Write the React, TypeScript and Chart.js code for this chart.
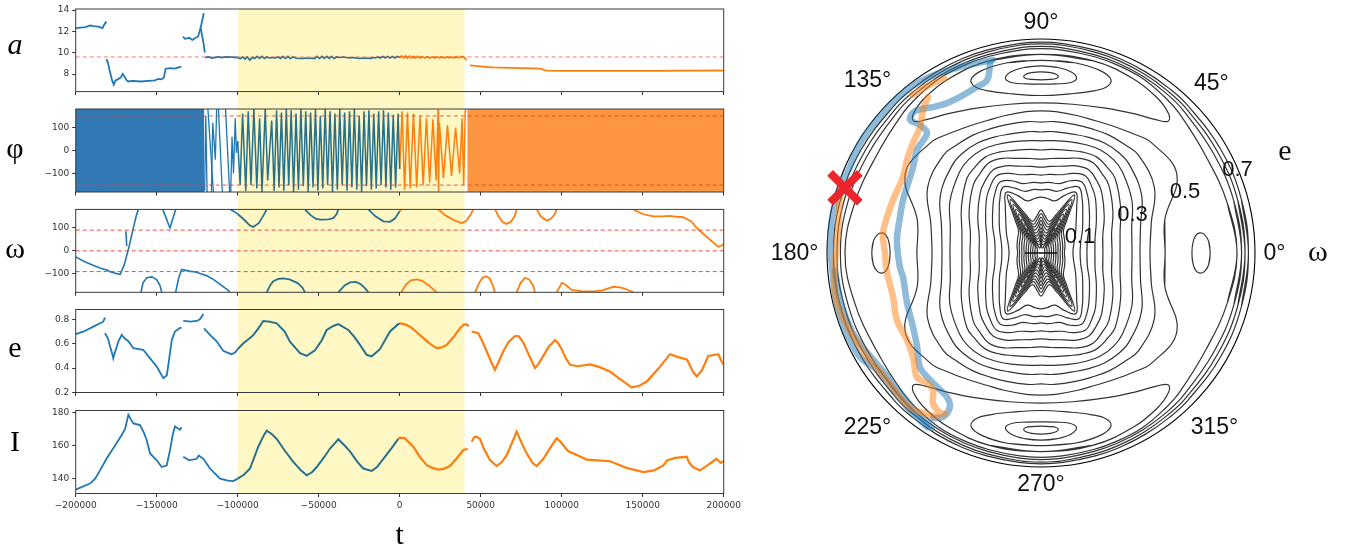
import React, { useEffect, useRef } from 'react';
import { Chart, registerables } from 'chart.js';

Chart.register(...registerables);

type Pt = [number, number];

// ---------------- shared time axis ----------------
const T_TICKS = [-200000, -150000, -100000, -50000, 0, 50000, 100000, 150000, 200000];
const BAND_START = -100000;
const BAND_END = 40000;

// ---------------- panel a ----------------
const A_TICKS = [8, 10, 12, 14];
const A_REF = 9.6;
const aBlue: Pt[][] = [
  [[-200000, 12.3], [-197000, 12.35], [-194000, 12.4], [-191000, 12.55], [-189000, 12.5], [-186000, 12.45], [-183500, 12.3], [-182500, 12.6], [-181500, 12.85], [-181000, 12.75]],
  [[-181000, 9.4], [-180000, 9.0], [-179000, 8.3], [-177500, 7.4], [-176500, 7.0], [-175500, 7.4], [-174000, 7.5], [-172000, 7.7], [-171000, 8.0], [-170000, 7.8], [-168500, 7.4], [-167500, 7.3], [-165000, 7.35], [-160000, 7.3], [-155000, 7.35], [-151000, 7.4], [-149000, 7.55], [-147000, 7.5], [-145500, 7.7], [-144500, 8.5], [-142000, 8.55], [-139000, 8.5], [-137000, 8.6], [-134800, 8.7]],
  [[-133800, 11.5], [-132500, 11.3], [-130000, 11.4], [-128000, 11.2], [-126000, 11.4], [-124500, 11.5], [-123500, 12.0], [-122500, 12.6], [-121500, 13.3], [-121000, 13.7]],
  [[-122800, 12.3], [-122000, 11.6], [-121000, 10.8], [-120300, 10.0]],
  [[-120000, 9.55], [-118000, 9.6], [-116000, 9.5], [-114000, 9.55], [-112000, 9.6], [-110000, 9.55], [-107000, 9.6], [-104000, 9.58], [-100000, 9.55]],
];
const aTeal: Pt[] = [
  [-100000, 9.55], [-98500, 9.45], [-97000, 9.6], [-95500, 9.4], [-94000, 9.6], [-92500, 9.3], [-91000, 9.55], [-89500, 9.45], [-88000, 9.65], [-86500, 9.45], [-85000, 9.65], [-83500, 9.45], [-82000, 9.6], [-80500, 9.5], [-79000, 9.55], [-77000, 9.5], [-75000, 9.6], [-73500, 9.45], [-72000, 9.65], [-70500, 9.45], [-69000, 9.65], [-67500, 9.45], [-66000, 9.6], [-64000, 9.5], [-62000, 9.45], [-60000, 9.45], [-58000, 9.5], [-56000, 9.45], [-54000, 9.5], [-52500, 9.45], [-51000, 9.65], [-49500, 9.45], [-48000, 9.65], [-46500, 9.45], [-45000, 9.65], [-43500, 9.45], [-42000, 9.65], [-40500, 9.45], [-39000, 9.6], [-37000, 9.55], [-35000, 9.6], [-33000, 9.55], [-31000, 9.5], [-29000, 9.55], [-27000, 9.5], [-25000, 9.45], [-23000, 9.5], [-21000, 9.45], [-19500, 9.5], [-18000, 9.45], [-16500, 9.55], [-15000, 9.5], [-13500, 9.6], [-12000, 9.5], [-10500, 9.65], [-9000, 9.5], [-7500, 9.65], [-6000, 9.5], [-4500, 9.65], [-3000, 9.5], [-1500, 9.65], [0, 9.55],
];
const aOrange: Pt[][] = [
  [[0, 9.55], [1200, 9.7], [2400, 9.5], [3600, 9.7], [4800, 9.5], [6000, 9.68], [7200, 9.5], [8400, 9.65], [9600, 9.5], [11000, 9.65], [12500, 9.5], [14000, 9.62], [15500, 9.5], [17000, 9.62], [18500, 9.5], [20000, 9.6], [21500, 9.52], [23000, 9.6], [24500, 9.52], [26000, 9.6], [27500, 9.5], [29000, 9.62], [30500, 9.52], [32000, 9.6], [33500, 9.5], [35000, 9.62], [36500, 9.52], [38000, 9.65], [39500, 9.6], [40500, 9.45], [41200, 9.3]],
  [[43400, 8.82], [47000, 8.76], [50000, 8.72], [54000, 8.66], [57800, 8.62], [62000, 8.6], [68000, 8.58], [75000, 8.55], [82000, 8.52], [86000, 8.5], [88000, 8.45], [89500, 8.34], [92000, 8.32], [100000, 8.3], [120000, 8.29], [140000, 8.29], [160000, 8.3], [175000, 8.32], [185000, 8.31], [195000, 8.33], [200000, 8.32]],
];

// ---------------- panel phi ----------------
const PHI_TICKS = [-100, 0, 100];
const PHI_REF = [150, -150];
const phiBlueBlock: Pt[] = [[-200000, 180], [-120600, 180]];
const phiOrangeBlock: Pt[] = [[41700, 180], [200000, 180]];
const phiBlue: Pt[][] = [
  [[-120400, -175], [-119700, 150], [-118900, -180]],
  [[-118400, 180], [-115000, -180]],
  [[-116200, -180], [-115400, 120], [-113800, -40], [-113000, 180]],
  [[-111900, 180], [-109500, -180]],
  [[-107500, 180], [-105000, -180]],
  [[-104300, -180], [-103500, 60], [-102600, -100], [-101500, 140], [-100800, -10], [-100000, 40]],
];
const phiTeal: Pt[] = [
  [-100000, 40], [-98500, -150], [-97000, 160], [-95000, -175], [-93500, 170], [-91800, -150], [-90000, 180], [-88200, -165], [-86500, 140], [-85000, -180], [-83000, 180], [-81500, -130], [-79000, 130], [-77500, -175], [-76000, 175], [-74500, -160], [-73000, 165], [-71500, -175], [-70000, 180], [-68500, -150], [-67000, 175], [-65500, -180], [-64000, 160], [-62500, -170], [-61000, 180], [-59500, -155], [-58000, 170], [-56500, -180], [-55000, 165], [-53500, -160], [-52000, 180], [-50500, -175], [-49000, 150], [-47500, -165], [-46000, 180], [-44500, -150], [-43000, 170], [-41500, -180], [-40000, 160], [-38500, -170], [-37000, 180], [-35500, -150], [-34000, 165], [-32500, -175], [-31000, 170], [-29500, -160], [-28000, 180], [-26500, -170], [-25000, 150], [-23500, -180], [-22000, 170], [-20500, -155], [-19000, 175], [-17500, -170], [-16000, 160], [-14500, -165], [-13000, 170], [-11500, -150], [-10000, 175], [-8500, -160], [-7000, 165], [-5500, -170], [-4000, 155], [-2500, -160], [-1000, 160], [0, -80],
];
const phiOrange: Pt[] = [
  [0, -80], [1500, 170], [3000, -170], [4800, 165], [6500, -165], [8500, 160], [10500, -160], [12500, 150], [14500, -150], [16500, 140], [18500, -140], [20500, 135], [22500, -130], [23700, 178], [24000, -180], [24500, 120], [27000, -120], [29500, 110], [32000, -110], [34500, 100], [37000, -100], [38500, 140], [39500, -150], [40500, 180],
];

// ---------------- panel omega ----------------
const OM_TICKS = [-100, 0, 100];
const OM_REF = [90, 0, -90];
const omBlue: Pt[][] = [
  [[-200000, -26], [-195000, -45], [-190000, -60], [-185000, -74], [-180000, -85], [-178800, -91], [-176000, -96], [-172600, -103], [-170000, -60], [-167000, 20], [-164400, 100], [-162700, 150], [-161400, 180]],
  [[-169000, 85], [-168500, 20]],
  [[-146300, 180], [-144000, 140], [-142500, 110], [-141800, 100], [-140500, 130], [-138300, 180]],
  [[-159700, -180], [-158500, -140], [-156200, -117], [-153000, -113], [-150000, -125], [-148000, -150], [-146900, -180]],
  [[-138300, -180], [-136500, -120], [-134600, -81], [-130000, -88], [-126000, -92], [-123300, -98], [-119000, -108], [-115000, -124], [-110000, -150], [-106000, -170], [-104750, -180]],
  [[-104750, 180], [-102000, 170], [-100000, 160]],
];
const omTeal: Pt[][] = [
  [[-100000, 160], [-96000, 135], [-92500, 110], [-90400, 104], [-87000, 120], [-84000, 155], [-82100, 180]],
  [[-82100, -180], [-80000, -150], [-78000, -132], [-75000, -122], [-71900, -120], [-68000, -124], [-63000, -140], [-60000, -160], [-58500, -180]],
  [[-58500, 180], [-55000, 155], [-52000, 140], [-49200, 136], [-44000, 137], [-41000, 142], [-38900, 160], [-37900, 180]],
  [[-37900, -180], [-34000, -150], [-30700, -137], [-27000, -135], [-24000, -145], [-21000, -165], [-19400, -180]],
  [[-19400, 180], [-15000, 150], [-10100, 128], [-6000, 126], [-3000, 140], [0, 172]],
];
const omOrange: Pt[][] = [
  [[0, 172], [1000, 180]],
  [[1000, -180], [4000, -145], [7000, -128], [10500, -124], [14000, -130], [18000, -150], [22800, -180]],
  [[23800, 180], [28000, 155], [33000, 135], [36500, 125], [38300, 121], [41000, 130], [44000, 160], [45400, 180]],
  [[46500, -180], [49000, -140], [51000, -118], [53300, -110], [55500, -120], [57500, -150], [58800, -180]],
  [[58800, 180], [61000, 150], [63500, 125], [66000, 117], [68500, 125], [71000, 150], [72200, 180]],
  [[72200, -180], [74500, -140], [77300, -117], [80000, -125], [82300, -150], [83500, -180]],
  [[84600, 180], [87000, 150], [90700, 131], [93500, 140], [95800, 160], [96900, 180]],
  [[96900, -180], [98500, -160], [100000, -139], [102000, -145], [106200, -170], [112000, -175], [120000, -176], [125000, -172], [131900, -156], [137000, -160], [141000, -170], [144200, -180]],
  [[144200, 180], [150000, 160], [156500, 150], [162000, 150], [166800, 152], [171000, 148], [175000, 146], [180000, 128], [183300, 100], [188000, 70], [193000, 40], [196700, 17], [198500, 22], [200000, 30]],
];

// ---------------- panel e ----------------
const E_TICKS = [0.2, 0.4, 0.6, 0.8];
const eBlue: Pt[][] = [
  [[-200000, 0.678], [-195000, 0.7], [-189100, 0.74], [-185000, 0.767], [-183000, 0.78], [-181900, 0.813]],
  [[-181900, 0.686], [-180000, 0.64], [-178800, 0.576], [-177500, 0.52], [-176800, 0.48], [-175800, 0.53], [-174500, 0.58], [-173700, 0.617], [-171600, 0.672], [-169500, 0.64], [-167500, 0.62], [-164400, 0.563], [-161000, 0.555], [-158300, 0.55], [-154100, 0.48], [-150000, 0.413], [-145900, 0.318], [-143800, 0.34], [-142800, 0.427], [-140700, 0.631], [-138700, 0.7], [-135600, 0.73], [-134600, 0.73]],
  [[-133600, 0.786], [-129000, 0.78], [-125300, 0.786], [-123300, 0.8], [-121200, 0.843]],
  [[-120800, 0.726], [-117100, 0.672], [-113000, 0.62], [-110500, 0.57], [-108900, 0.541], [-106000, 0.525], [-103700, 0.514], [-101500, 0.53], [-100000, 0.555]],
];
const eTeal: Pt[] = [
  [-100000, 0.555], [-96500, 0.604], [-93000, 0.64], [-90400, 0.67], [-87000, 0.73], [-84200, 0.786], [-80000, 0.78], [-75900, 0.767], [-71000, 0.7], [-67700, 0.617], [-64000, 0.56], [-61500, 0.522], [-57400, 0.5], [-52300, 0.545], [-48000, 0.63], [-45100, 0.712], [-41000, 0.745], [-37900, 0.76], [-31700, 0.712], [-28000, 0.655], [-24500, 0.59], [-20400, 0.509], [-17300, 0.496], [-12200, 0.555], [-9000, 0.63], [-6000, 0.7], [-900, 0.76], [0, 0.767],
];
const eOrange: Pt[][] = [
  [[0, 0.767], [3000, 0.76], [6400, 0.74], [10000, 0.7], [14600, 0.645], [18500, 0.6], [22800, 0.563], [26000, 0.57], [29000, 0.59], [33000, 0.65], [37200, 0.727], [39500, 0.755], [41400, 0.76], [42500, 0.74]],
  [[44400, 0.7], [48500, 0.686], [51000, 0.62], [53700, 0.536], [56500, 0.45], [58800, 0.386], [61000, 0.45], [63900, 0.536], [67000, 0.61], [71200, 0.664], [73500, 0.66], [76300, 0.61], [80000, 0.5], [83500, 0.4], [85500, 0.43], [88700, 0.5], [92000, 0.575], [95900, 0.63], [98000, 0.6], [100000, 0.555], [102500, 0.48], [105100, 0.427], [110000, 0.415], [117500, 0.43], [123000, 0.41], [129800, 0.372], [136000, 0.31], [143200, 0.242], [148000, 0.255], [152500, 0.29], [160000, 0.4], [166800, 0.514], [172000, 0.49], [177200, 0.47], [178500, 0.44], [181000, 0.37], [183300, 0.331], [186500, 0.38], [190500, 0.5], [196700, 0.514], [198500, 0.46], [200000, 0.427]],
];

// ---------------- panel I ----------------
const I_TICKS = [140, 160, 180];
const iBlue: Pt[][] = [
  [[-200000, 133.3], [-191200, 137], [-188000, 140], [-185000, 145], [-180900, 152.2], [-176800, 158.3], [-174700, 161.5], [-171600, 166.4], [-169500, 170], [-167500, 178.6], [-166000, 176], [-164400, 173.4], [-160300, 172.4], [-158000, 168], [-156200, 163.4], [-154100, 155.2], [-150000, 151.1], [-146900, 147], [-143800, 148], [-141800, 157.2], [-140000, 167], [-138700, 171.5], [-135600, 169.5], [-134600, 171]],
  [[-133600, 153.2], [-130000, 151.1], [-125300, 152], [-124000, 154], [-121200, 152], [-117100, 146.1], [-114000, 143], [-110900, 140], [-106000, 138.8], [-102700, 138.5], [-100000, 140]],
];
const iTeal: Pt[] = [
  [-100000, 140], [-96000, 142.5], [-92400, 146.1], [-87300, 159.3], [-84000, 166], [-82100, 169], [-79000, 167], [-75900, 164], [-71000, 157], [-65700, 150.1], [-61000, 145], [-57400, 142], [-54000, 144], [-51200, 147], [-47000, 152.5], [-43000, 158.2], [-40000, 161.5], [-37900, 163.8], [-34000, 160], [-30700, 156.5], [-26000, 150], [-22500, 146.1], [-17300, 144.6], [-14000, 147], [-10100, 152], [-5000, 158.5], [-900, 164],
];
const iOrange: Pt[][] = [
  [[-900, 164], [0, 164.8], [3000, 164.5], [8400, 159.3], [12500, 153], [16700, 148.1], [20000, 146.5], [23800, 145.5], [27500, 146], [31000, 147.6], [35000, 152], [39300, 157.3], [42000, 158]],
  [[44400, 162.3], [46000, 165], [47500, 165.3], [49500, 164], [52000, 158], [55700, 151.2], [59900, 147.6], [63000, 150], [66000, 154], [69500, 162], [72200, 168.4], [75500, 161], [78400, 155.2], [82000, 149.5], [84600, 147.6], [88700, 152], [92500, 158], [96900, 164.4], [99500, 162], [102000, 159], [104100, 156.5], [110000, 154], [115400, 151.5], [122000, 151], [129800, 150.5], [140000, 146.5], [150400, 144], [157000, 145], [162700, 148], [165000, 151], [170000, 152.5], [177200, 153.2], [178500, 150], [181000, 147], [185300, 145], [190000, 148], [195600, 152], [198000, 149.5], [200000, 150.7]],
];

// ---------------- polar (omega in degrees, e) ----------------
const E_MAX = 0.75;
const ANGLE_TICKS = [0, 45, 90, 135, 180, 225, 270, 315];
const R_TICKS = [0.1, 0.3, 0.5, 0.7];
const CONTOUR_ANGLES = [0, 15, 30, 45, 52, 60, 68, 75, 84, 90];
// radii (e) of level curves around e = 0, at the angles above (first quadrant; mirror symmetric)
const centerContours: number[][] = [
  [0.013, 0.014, 0.015, 0.018, 0.023, 0.061, 0.023, 0.018, 0.021, 0.04],
  [0.021, 0.022, 0.024, 0.028, 0.037, 0.081, 0.037, 0.029, 0.033, 0.053],
  [0.028, 0.03, 0.033, 0.038, 0.051, 0.1, 0.051, 0.04, 0.046, 0.065],
  [0.036, 0.038, 0.041, 0.049, 0.065, 0.119, 0.065, 0.05, 0.058, 0.077],
  [0.044, 0.046, 0.05, 0.059, 0.079, 0.138, 0.079, 0.061, 0.07, 0.089],
  [0.052, 0.054, 0.059, 0.069, 0.093, 0.158, 0.093, 0.072, 0.082, 0.102],
  [0.059, 0.062, 0.068, 0.08, 0.107, 0.177, 0.107, 0.083, 0.095, 0.114],
  [0.067, 0.07, 0.077, 0.09, 0.121, 0.196, 0.121, 0.094, 0.107, 0.126],
  [0.075, 0.079, 0.086, 0.101, 0.134, 0.216, 0.134, 0.104, 0.12, 0.138],
  [0.082, 0.087, 0.095, 0.111, 0.148, 0.235, 0.148, 0.115, 0.132, 0.151],
  [0.112, 0.119, 0.14, 0.175, 0.203, 0.245, 0.217, 0.189, 0.193, 0.196],
  [0.137, 0.144, 0.168, 0.207, 0.235, 0.266, 0.245, 0.224, 0.224, 0.221],
  [0.161, 0.168, 0.196, 0.238, 0.263, 0.287, 0.273, 0.252, 0.249, 0.245],
  [0.189, 0.196, 0.224, 0.27, 0.291, 0.312, 0.301, 0.284, 0.277, 0.273],
  [0.217, 0.224, 0.256, 0.301, 0.319, 0.336, 0.329, 0.315, 0.305, 0.301],
  [0.249, 0.256, 0.291, 0.336, 0.35, 0.365, 0.358, 0.343, 0.333, 0.329],
  [0.277, 0.287, 0.322, 0.368, 0.379, 0.389, 0.382, 0.372, 0.365, 0.361],
  [0.319, 0.329, 0.368, 0.403, 0.414, 0.417, 0.41, 0.403, 0.396, 0.393],
  [0.347, 0.361, 0.407, 0.438, 0.445, 0.445, 0.438, 0.431, 0.428, 0.424],
  [0.382, 0.4, 0.459, 0.484, 0.48, 0.477, 0.47, 0.466, 0.463, 0.459],
  [0.435, 0.449, 0.55, 0.547, 0.529, 0.512, 0.501, 0.498, 0.498, 0.498],
];
const outerContours: number[][] = [
  [0.687, 0.676, 0.67, 0.688, 0.698, 0.708, 0.711, 0.713, 0.715, 0.716],
  [0.703, 0.7, 0.698, 0.706, 0.711, 0.715, 0.718, 0.72, 0.723, 0.724],
  [0.715, 0.714, 0.713, 0.718, 0.721, 0.724, 0.727, 0.729, 0.732, 0.733],
  [0.727, 0.727, 0.727, 0.729, 0.731, 0.733, 0.735, 0.736, 0.738, 0.739],
];
// libration islands around omega = 90 (right half, outer -> inner)
const islandContours: Pt[][] = [
  [[90, 0.635], [87, 0.633], [85, 0.628], [84.4, 0.621], [85, 0.614], [87, 0.609], [90, 0.607]],
  [[90, 0.656], [85, 0.653], [80.5, 0.643], [78.5, 0.624], [80.5, 0.605], [85, 0.595], [90, 0.592]],
  [[90, 0.675], [80, 0.677], [72, 0.672], [68, 0.655], [68.5, 0.625], [73, 0.592], [80, 0.566], [90, 0.552]],
  [[90, 0.696], [75, 0.698], [62, 0.691], [53, 0.679], [47.5, 0.662], [46, 0.642], [49, 0.618], [56, 0.588], [66, 0.556], [78, 0.533], [90, 0.526]],
];
// island around omega = 0 (upper half, outer -> inner)
const sideIsland: Pt[] = [[0, 0.593], [4, 0.589], [6.5, 0.576], [7.2, 0.561], [6.5, 0.546], [4, 0.534], [0, 0.529]];

const blueTracks: Pt[][] = [
  [[104.0, 0.697], [113.5, 0.711], [123.1, 0.732], [130.8, 0.74], [139.8, 0.739], [148.7, 0.742], [155.8, 0.734], [161.8, 0.741], [169.1, 0.742], [176.5, 0.741], [183.8, 0.734], [193.5, 0.738], [201, 0.737], [209.9, 0.732], [215.5, 0.706], [222.8, 0.707], [230.2, 0.717], [236.8, 0.729]],
  [[185, 0.725], [195, 0.722], [204, 0.715], [211, 0.7], [218, 0.69], [225, 0.695], [232, 0.71], [238, 0.722]],
  [[105.0, 0.689], [107.3, 0.635], [111.1, 0.624], [117.4, 0.616], [122.1, 0.62], [126.5, 0.636], [131.5, 0.665], [134.5, 0.655], [133.4, 0.617], [133.5, 0.58], [140.3, 0.565], [146.1, 0.54], [153.8, 0.524], [159.0, 0.518], [165.7, 0.51], [174.8, 0.507], [185.7, 0.497], [189.9, 0.491], [200.5, 0.501], [210.0, 0.518], [217.2, 0.545], [223.3, 0.583], [228.8, 0.591], [232.2, 0.594], [236.9, 0.603], [239.4, 0.627], [239.1, 0.67], [236.8, 0.691]],
];
const orangeTracks: Pt[][] = [
  [[119, 0.7], [124, 0.708], [129.2, 0.715]],
  [[125.9, 0.675], [129.5, 0.65], [133.8, 0.612], [139.3, 0.592], [145.2, 0.572], [151.2, 0.552], [160.3, 0.551], [166.8, 0.554], [172.8, 0.558], [180, 0.547], [187.4, 0.544], [196.6, 0.541], [205.0, 0.557], [213.0, 0.56], [219.1, 0.578], [225.0, 0.615], [228.8, 0.606], [231.8, 0.611], [234.2, 0.648], [237.7, 0.663], [238.9, 0.658]],
  [[162.6, 0.738], [173.5, 0.716], [183.9, 0.724], [193.8, 0.736], [207.4, 0.715], [219.5, 0.7], [229.6, 0.709], [237.6, 0.681]],
];
const startMarker: Pt = [161.6, 0.724];

// ---------------- styling ----------------
const BLUE = '#1f77b4';
const TEAL = '#27718f';
const ORANGE = '#ff7f0e';
const BLUE_BLOCK = '#3079b5';
const ORANGE_BLOCK = '#fd9640';
const BAND_COLOR = '#fff8c4';
const TICK_FONT = { family: 'DejaVu Sans', size: 9 };
const SERIF = '"Liberation Serif", "DejaVu Serif", serif';

const CANVAS_TOPS = [0, 100, 201, 301, 402];
const CANVAS_BOTTOMS = [100, 201, 301, 402, 551];
const PANEL_TOPS = [9, 109, 209.3, 309.5, 410.5];
const PANEL_H = 83;
const LEFT_W = 760;
const AXIS_W = 75.7;
const PLOT_RIGHT = 723.7;

interface Series { data: Pt[]; color: string; width?: number; fill?: boolean }
interface PanelSpec {
  label: string; italic?: boolean; labelDy: number;
  min: number; max: number; ticks: number[];
  series: Series[]; hlines: { v: number; color: string }[];
}

const segs = (list: Pt[][], color: string, width?: number): Series[] => list.map((d) => ({ data: d, color, width }));

const PANELS: PanelSpec[] = [
  {
    label: 'a', italic: true, labelDy: -4, min: 6.35, max: 14.1, ticks: A_TICKS,
    series: [...segs(aBlue, BLUE), { data: aTeal, color: TEAL, width: 1.6 }, ...segs(aOrange, ORANGE)],
    hlines: [{ v: A_REF, color: 'rgba(232,70,50,0.7)' }],
  },
  {
    label: 'φ', labelDy: 0, min: -180, max: 180, ticks: PHI_TICKS,
    series: [
      { data: phiBlueBlock, color: BLUE_BLOCK, fill: true },
      { data: phiOrangeBlock, color: ORANGE_BLOCK, fill: true },
      ...segs(phiBlue, BLUE, 1.3),
      { data: phiTeal, color: TEAL, width: 1.5 },
      { data: phiOrange, color: ORANGE, width: 1.5 },
    ],
    hlines: PHI_REF.map((v) => ({ v, color: 'rgba(232,60,40,0.85)' })),
  },
  {
    label: 'ω', labelDy: -1, min: -180, max: 180, ticks: OM_TICKS,
    series: [...segs(omBlue, BLUE, 1.6), ...segs(omTeal, TEAL, 1.8), ...segs(omOrange, ORANGE, 1.8)],
    hlines: OM_REF.map((v) => ({ v, color: 'rgba(232,60,40,0.9)' })),
  },
  {
    label: 'e', labelDy: -2, min: 0.2, max: 0.88, ticks: E_TICKS,
    series: [...segs(eBlue, BLUE, 1.8), { data: eTeal, color: TEAL, width: 2 }, ...segs(eOrange, ORANGE, 2.2)],
    hlines: [],
  },
  {
    label: 'I', labelDy: -9, min: 131, max: 181.2, ticks: I_TICKS,
    series: [...segs(iBlue, BLUE, 1.8), { data: iTeal, color: TEAL, width: 2 }, ...segs(iOrange, ORANGE, 2.2)],
    hlines: [],
  },
];

const fmt = (v: number | string) => String(v).replace('-', '\u2212');

function panelConfig(p: PanelSpec, i: number): any {
  const first = i === 0;
  const last = i === PANELS.length - 1;
  const canvasH = CANVAS_BOTTOMS[i] - CANVAS_TOPS[i];
  const padTop = PANEL_TOPS[i] - CANVAS_TOPS[i];
  const xh = canvasH - padTop - PANEL_H;
  const deco = {
    id: 'panelDeco' + i,
    beforeDraw(chart: any) {
      const { ctx, chartArea, scales } = chart;
      const x0 = scales.x.getPixelForValue(BAND_START);
      const x1 = scales.x.getPixelForValue(BAND_END);
      const top = first ? chartArea.top : 0;
      const bottom = last ? chartArea.bottom : chart.height;
      ctx.save();
      ctx.fillStyle = BAND_COLOR;
      ctx.fillRect(x0, top, x1 - x0, bottom - top);
      ctx.restore();
    },
    afterDatasetsDraw(chart: any) {
      const { ctx, chartArea, scales } = chart;
      ctx.save();
      ctx.lineWidth = 1;
      ctx.setLineDash([4, 3]);
      p.hlines.forEach((h) => {
        const y = scales.y.getPixelForValue(h.v);
        ctx.strokeStyle = h.color;
        ctx.beginPath();
        ctx.moveTo(chartArea.left, y);
        ctx.lineTo(chartArea.right, y);
        ctx.stroke();
      });
      ctx.setLineDash([]);
      ctx.strokeStyle = '#3a3a3a';
      ctx.lineWidth = 1;
      ctx.strokeRect(chartArea.left, chartArea.top, chartArea.right - chartArea.left, chartArea.bottom - chartArea.top);
      ctx.fillStyle = '#000';
      ctx.font = (p.italic ? 'italic ' : '') + '30px ' + SERIF;
      ctx.textAlign = 'center';
      ctx.textBaseline = 'middle';
      ctx.fillText(p.label, 15, (chartArea.top + chartArea.bottom) / 2 + p.labelDy);
      if (last) {
        ctx.font = '30px ' + SERIF;
        ctx.fillText('t', scales.x.getPixelForValue(0), 536 - CANVAS_TOPS[i]);
      }
      ctx.restore();
    },
  };
  return {
    type: 'line',
    data: {
      datasets: p.series.map((s) => ({
        data: s.data.map(([x, y]) => ({ x, y })),
        borderColor: s.fill ? 'rgba(0,0,0,0)' : s.color,
        backgroundColor: s.color,
        borderWidth: s.fill ? 1 : s.width ?? 1.8,
        fill: s.fill ? { value: p.min } : false,
        pointRadius: 0,
        tension: 0,
      })),
    },
    options: {
      animation: false,
      responsive: false,
      events: [],
      layout: { padding: { top: padTop, right: LEFT_W - PLOT_RIGHT, left: 0, bottom: 0 } },
      plugins: { legend: { display: false }, tooltip: { enabled: false } },
      scales: {
        x: {
          type: 'linear', min: T_TICKS[0], max: T_TICKS[T_TICKS.length - 1],
          afterBuildTicks: (s: any) => { s.ticks = T_TICKS.map((v) => ({ value: v })); },
          afterFit: (s: any) => { s.height = xh; },
          grid: { display: true, drawOnChartArea: false, drawTicks: true, tickLength: 3.5, color: '#333' },
          border: { display: false },
          ticks: { display: last, font: TICK_FONT, color: '#333', padding: 3, maxRotation: 0, autoSkip: false, callback: (v: any) => fmt(v) },
        },
        y: {
          type: 'linear', min: p.min, max: p.max,
          afterBuildTicks: (s: any) => { s.ticks = p.ticks.map((v) => ({ value: v })); },
          afterFit: (s: any) => { s.width = AXIS_W; },
          grid: { display: true, drawOnChartArea: false, drawTicks: true, tickLength: 3.5, color: '#333' },
          border: { display: false },
          ticks: { font: TICK_FONT, color: '#333', padding: 3, callback: (v: any) => fmt(v) },
        },
      },
    },
    plugins: [deco],
  };
}

// ---------- polar helpers ----------
const cart = (w: number, e: number) => ({ x: e * Math.cos((w * Math.PI) / 180), y: e * Math.sin((w * Math.PI) / 180) });

function closeLoop(list: Pt[]) {
  const pts = list.map(([w, e]) => cart(w, e));
  return [pts[pts.length - 1], ...pts, pts[0], pts[1]];
}

function centerLoop(radii: number[]) {
  const base: Pt[] = CONTOUR_ANGLES.map((a, i) => [a, radii[i]]);
  const half: Pt[] = [...base, ...base.slice(0, -1).reverse().map(([a, r]) => [180 - a, r] as Pt)];
  const full: Pt[] = [...half, ...half.slice(1, -1).reverse().map(([a, r]) => [360 - a, r] as Pt)];
  return closeLoop(full);
}

function islandLoop(half: Pt[], mirrorAbout: number, shift: number, flip: boolean) {
  const mid = half.slice(1, -1).reverse().map(([w, e]) => [2 * mirrorAbout - w, e] as Pt);
  const full = [...half, ...mid].map(([w, e]) => [(flip ? -w : w) + shift, e] as Pt);
  return closeLoop(full);
}

function polarConfig(): any {
  const contourStyle = { borderColor: '#333', borderWidth: 1.2, tension: 0.4, pointRadius: 0, fill: false, order: 10 };
  const datasets: any[] = [];
  [...centerContours, ...outerContours].forEach((r) => datasets.push({ ...contourStyle, data: centerLoop(r) }));
  islandContours.forEach((half) => {
    datasets.push({ ...contourStyle, data: islandLoop(half, 90, 0, false) });
    datasets.push({ ...contourStyle, data: islandLoop(half, 90, 0, true) });
  });
  datasets.push({ ...contourStyle, data: islandLoop(sideIsland, 0, 0, false) });
  datasets.push({ ...contourStyle, data: islandLoop(sideIsland, 0, 180, false) });
  blueTracks.forEach((t) => datasets.push({
    data: t.map(([w, e]) => cart(w, e)), borderColor: 'rgba(31,119,180,0.5)', borderWidth: 6.5,
    tension: 0.35, pointRadius: 0, fill: false, order: 5, borderCapStyle: 'round', borderJoinStyle: 'round',
  }));
  orangeTracks.forEach((t) => datasets.push({
    data: t.map(([w, e]) => cart(w, e)), borderColor: 'rgba(255,127,14,0.5)', borderWidth: 6.5,
    tension: 0.35, pointRadius: 0, fill: false, order: 4, borderCapStyle: 'round', borderJoinStyle: 'round',
  }));
  datasets.push({
    data: [cart(0, 0)], showLine: false, pointStyle: 'line', pointRadius: 16,
    pointBorderWidth: 1.5, pointBorderColor: '#111', order: 3,
  });
  datasets.push({
    data: [cart(startMarker[0], startMarker[1])], showLine: false, pointStyle: 'crossRot', pointRadius: 21,
    pointBorderWidth: 8, pointBorderColor: '#e8262b', pointBackgroundColor: '#e8262b', order: 1, clip: false,
  });

  const deco = {
    id: 'polarDeco',
    beforeDatasetsDraw(chart: any) {
      const { ctx, scales } = chart;
      const cx = scales.x.getPixelForValue(0);
      const cy = scales.y.getPixelForValue(0);
      const R = scales.x.getPixelForValue(E_MAX) - cx;
      ctx.save();
      ctx.beginPath();
      ctx.arc(cx, cy, R, 0, Math.PI * 2);
      ctx.strokeStyle = '#000';
      ctx.lineWidth = 1.1;
      ctx.stroke();
      ctx.restore();
    },
    afterDatasetsDraw(chart: any) {
      const { ctx, scales } = chart;
      const px = (w: number, e: number) => {
        const c = cart(w, e);
        return [scales.x.getPixelForValue(c.x), scales.y.getPixelForValue(c.y)];
      };
      const cx = scales.x.getPixelForValue(0);
      const cy = scales.y.getPixelForValue(0);
      const labR = scales.x.getPixelForValue(0.78) - cx;
      ctx.save();
      ctx.fillStyle = '#111';
      ctx.font = '23px "Liberation Sans", Arial, sans-serif';
      ctx.textAlign = 'center';
      ctx.textBaseline = 'middle';
      ANGLE_TICKS.forEach((a) => {
        const txt = a + '°';
        const w = ctx.measureText(txt).width;
        const h = 17;
        const rad = (a * Math.PI) / 180;
        const c = Math.cos(rad);
        const s = Math.sin(rad);
        const off = labR + Math.abs(c) * w / 2 + Math.abs(s) * h / 2;
        ctx.fillText(txt, cx + c * off, cy - s * off + 1);
      });
      ctx.font = '22px "Liberation Sans", Arial, sans-serif';
      ctx.textAlign = 'left';
      ctx.textBaseline = 'alphabetic';
      R_TICKS.forEach((r) => {
        const [x, y] = px(23, r - 0.01);
        ctx.fillText(String(r), x, y);
      });
      ctx.font = '30px ' + SERIF;
      ctx.textAlign = 'center';
      ctx.textBaseline = 'middle';
      let [ex, ey] = px(22.5, 0.925);
      ctx.fillText('e', ex, ey);
      [ex, ey] = px(0, 0.97);
      ctx.fillText('ω', ex, ey);
      ctx.restore();
    },
  };

  return {
    type: 'line',
    data: { datasets },
    options: {
      animation: false,
      responsive: false,
      events: [],
      layout: { padding: { left: 67, right: 94, top: 39, bottom: 84 } },
      plugins: { legend: { display: false }, tooltip: { enabled: false } },
      scales: {
        x: { type: 'linear', min: -E_MAX, max: E_MAX, display: false },
        y: { type: 'linear', min: -E_MAX, max: E_MAX, display: false },
      },
    },
    plugins: [deco],
  };
}

export default function App() {
  const leftRefs = useRef<(HTMLCanvasElement | null)[]>([]);
  const polarRef = useRef<HTMLCanvasElement | null>(null);

  useEffect(() => {
    document.body.style.overflow = 'hidden';
    const charts: Chart[] = [];
    PANELS.forEach((p, i) => {
      const cv = leftRefs.current[i];
      if (cv) charts.push(new Chart(cv, panelConfig(p, i)));
    });
    if (polarRef.current) charts.push(new Chart(polarRef.current, polarConfig()));
    return () => charts.forEach((c) => c.destroy());
  }, []);

  return (
    <div style={{ position: 'absolute', left: 0, top: 0, width: 1349, height: 551, background: '#fff', overflow: 'hidden' }}>
      {PANELS.map((p, i) => {
        const h = CANVAS_BOTTOMS[i] - CANVAS_TOPS[i];
        return (
          <canvas
            key={i}
            ref={(el) => { leftRefs.current[i] = el; }}
            width={LEFT_W}
            height={h}
            style={{ position: 'absolute', left: 0, top: CANVAS_TOPS[i], width: LEFT_W, height: h }}
          />
        );
      })}
      <canvas
        ref={polarRef}
        width={589}
        height={551}
        style={{ position: 'absolute', left: 760, top: 0, width: 589, height: 551 }}
      />
    </div>
  );
}
